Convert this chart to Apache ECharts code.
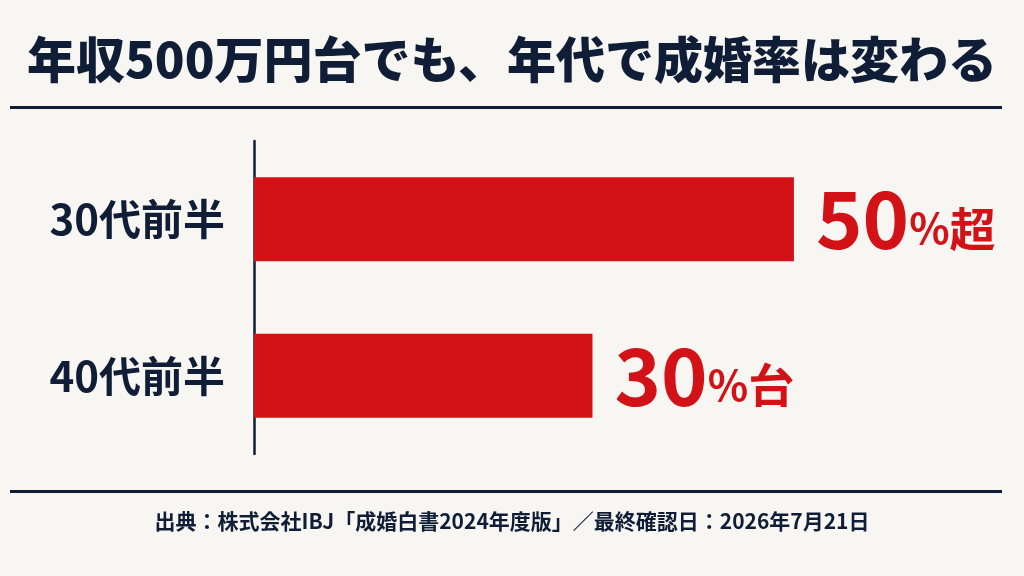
<!DOCTYPE html>
<html>
<head>
<meta charset="utf-8">
<script src="https://cdn.jsdelivr.net/npm/echarts@6/dist/echarts.min.js"></script>
<style>
  html, body { margin: 0; padding: 0; background: #f7f6f2; }
  #chart { width: 1024px; height: 576px; }
</style>
</head>
<body>
<div id="chart"></div>
<script>
// Age groups and marriage-rate values (percent) for the 5M-yen income band
const categories = ['30代前半', '40代前半'];
const rates = [52, 32.6];
const rateLabels = ['50%超', '30%台'];
const titleText = '年収500万円台でも、年代で成婚率は変わる';
const sourceText = '出典：株式会社IBJ「成婚白書2024年度版」／最終確認日：2026年7月21日';

const NAVY = '#0f1d36';
const RED = '#d31217';
const FONT = '"Noto Sans CJK JP", "Noto Sans", sans-serif';

const chart = echarts.init(document.getElementById('chart'));

// split "50%超" into number / percent sign / suffix for rich styling
function richLabel(i) {
  const m = rateLabels[i].match(/^(\d+)(%)(.*)$/);
  return '{n|' + m[1] + '}{p|' + m[2] + '}{s|' + m[3] + '}';
}

chart.setOption({
  backgroundColor: '#f7f6f2',
  textStyle: { fontFamily: FONT },
  title: {
    text: titleText,
    left: 'center',
    top: 30,
    textStyle: { fontFamily: FONT, fontSize: 49, fontWeight: 900, color: NAVY }
  },
  graphic: [
    { type: 'rect', shape: { x: 10, y: 106, width: 992, height: 3 }, style: { fill: NAVY } },
    { type: 'rect', shape: { x: 10, y: 490, width: 992, height: 3 }, style: { fill: NAVY } },
    {
      type: 'text', left: 'center', top: 511,
      style: { text: sourceText, font: 'bold 21px ' + FONT, fill: NAVY }
    }
  ],
  grid: { left: 254, right: 147, top: 141, bottom: 122 },
  xAxis: {
    type: 'value', min: 0, max: 60,
    show: false
  },
  yAxis: {
    type: 'category',
    data: categories,
    inverse: true,
    axisLine: { show: true, lineStyle: { color: NAVY, width: 2.5 } },
    axisTick: { show: false },
    axisLabel: {
      margin: 29,
      fontFamily: FONT, fontSize: 42, fontWeight: 'bold', color: NAVY
    }
  },
  series: [{
    type: 'bar',
    data: rates,
    barWidth: 84,
    itemStyle: { color: RED },
    silent: true,
    label: {
      show: true,
      position: 'right',
      distance: 22,
      formatter: p => richLabel(p.dataIndex),
      rich: {
        n: { fontFamily: FONT, fontSize: 79, fontWeight: 'bold', color: RED },
        p: { fontFamily: FONT, fontSize: 42, fontWeight: 'bold', color: RED, padding: [18, 0, 0, 0] },
        s: { fontFamily: FONT, fontSize: 46, fontWeight: 'bold', color: RED, padding: [18, 0, 0, 0] }
      }
    }
  }],
  animation: false
});
</script>
</body>
</html>
